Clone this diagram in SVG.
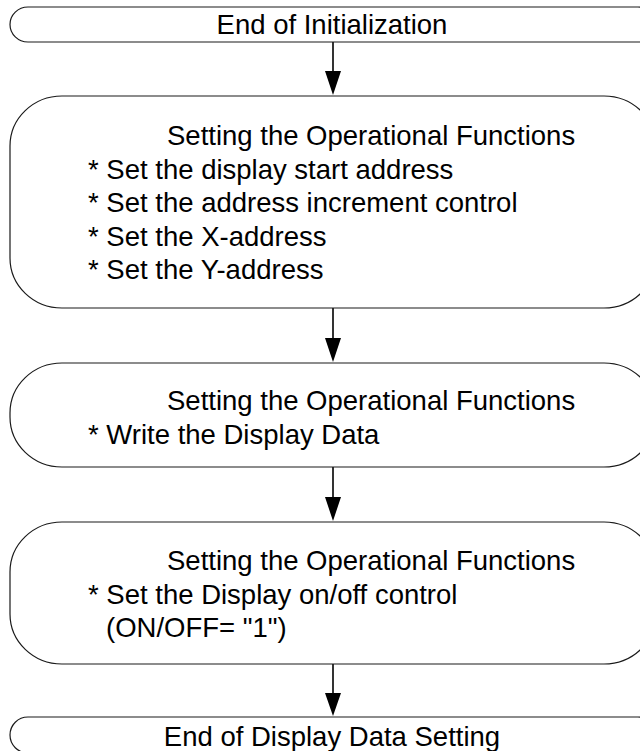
<svg xmlns="http://www.w3.org/2000/svg" width="640" height="751" viewBox="0 0 640 751">
<style>
.box{fill:#fff;stroke:#1a1a1a;stroke-width:1.2}
.t{font-family:"Liberation Sans",Arial,sans-serif;font-size:27.5px;fill:#000}
.c{text-anchor:middle}
.conn{stroke:#000;stroke-width:1.6;fill:none}
.head{fill:#000}
</style>
<rect width="640" height="751" fill="#fff"/>
<g id="connectors">
<line class="conn" x1="333" y1="42" x2="333" y2="72"/>
<polygon class="head" points="325,71 341,71 333,95"/>
<line class="conn" x1="333" y1="308" x2="333" y2="339"/>
<polygon class="head" points="325,338 341,338 333,362"/>
<line class="conn" x1="333" y1="467" x2="333" y2="498"/>
<polygon class="head" points="325,497 341,497 333,521"/>
<line class="conn" x1="333" y1="664" x2="333" y2="694"/>
<polygon class="head" points="325,693 341,693 333,716"/>
</g>
<g id="n1">
<rect class="box" x="10" y="7" width="646" height="35" rx="18" ry="17.5"/>
<text class="t c" x="332" y="34">End of Initialization</text>
</g>
<g id="n2">
<rect class="box" x="10" y="96" width="646" height="212" rx="52" ry="50"/>
<text class="t" x="167" y="145">Setting the Operational Functions</text>
<text class="t" x="88" y="178.5">* Set the display start address</text>
<text class="t" x="88" y="212">* Set the address increment control</text>
<text class="t" x="88" y="245.5">* Set the X-address</text>
<text class="t" x="88" y="279">* Set the Y-address</text>
</g>
<g id="n3">
<rect class="box" x="10" y="363" width="646" height="104" rx="52" ry="50"/>
<text class="t" x="167" y="410">Setting the Operational Functions</text>
<text class="t" x="88" y="444">* Write the Display Data</text>
</g>
<g id="n4">
<rect class="box" x="10" y="522" width="646" height="142" rx="52" ry="50"/>
<text class="t" x="167" y="570">Setting the Operational Functions</text>
<text class="t" x="88" y="604">* Set the Display on/off control</text>
<text class="t" x="106" y="637">(ON/OFF= "1")</text>
</g>
<g id="n5">
<rect class="box" x="10" y="717" width="646" height="36" rx="18" ry="18"/>
<text class="t c" x="332" y="746">End of Display Data Setting</text>
</g>
</svg>
